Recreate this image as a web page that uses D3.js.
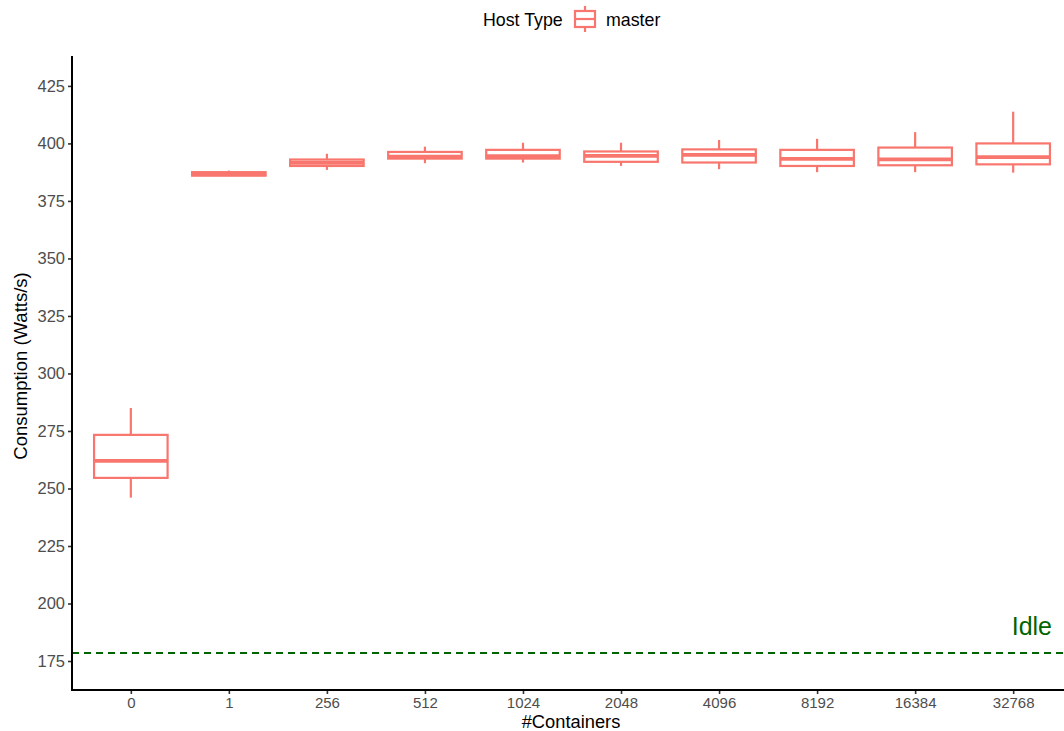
<!DOCTYPE html>
<html>
<head>
<meta charset="utf-8">
<script src="https://cdn.jsdelivr.net/npm/d3@7/dist/d3.min.js"></script>
<style>
  html, body { margin: 0; padding: 0; background: #fff; overflow: hidden; }
  svg { display: block; font-family: "Liberation Sans", Arial, sans-serif; }
</style>
</head>
<body>
<svg id="chart" width="1064" height="731"></svg>
<script>
// Number of containers per run (discrete categories)
const categories = ["0", "1", "256", "512", "1024", "2048", "4096", "8192", "16384", "32768"];

// Box-plot statistics of power consumption (Watts/s) for the master host
const whiskerLow  = [246.0, 385.8, 388.5, 391.4, 391.7, 390.2, 388.8, 387.5, 387.5, 387.3];
const q1          = [254.6, 386.0, 390.2, 393.4, 393.4, 392.0, 391.7, 390.2, 390.5, 390.9];
const median      = [262.0, 386.6, 391.6, 394.3, 394.5, 394.6, 395.0, 393.3, 393.1, 394.0];
const q3          = [273.3, 387.5, 393.0, 396.3, 397.2, 396.5, 397.4, 397.2, 398.2, 400.0];
const whiskerHigh = [285.0, 388.2, 395.5, 398.6, 400.3, 400.3, 401.5, 402.0, 404.9, 413.8];

// Idle consumption reference level
const idleLevel = 178.5;
const idleLabel = "Idle";

// Y axis ticks
const yTicks = [175, 200, 225, 250, 275, 300, 325, 350, 375, 400, 425];

const boxes = categories.map((c, i) => ({
  cat: c, lo: whiskerLow[i], q1: q1[i], med: median[i], q3: q3[i], hi: whiskerHigh[i]
}));

const svg = d3.select("#chart");
const W = 1064, H = 731;
const plotL = 72, plotR = 1072;   // panel runs slightly past the right edge
const plotT = 56, plotB = 690;

const boxColor = "#F8766D";

// Discrete x positions with 0.6-unit expansion on each side
const x = d3.scalePoint()
  .domain(categories)
  .range([plotL, plotR])
  .padding(0.6);
const step = x.step();
const boxW = step * 0.75;

const y = d3.scaleLinear()
  .domain([162.4, 438.0])
  .range([plotB, plotT]);

// Idle reference line
svg.append("line")
  .attr("x1", plotL).attr("x2", plotR)
  .attr("y1", y(idleLevel)).attr("y2", y(idleLevel))
  .attr("stroke", "#006400")
  .attr("stroke-width", 2)
  .attr("stroke-dasharray", "7,5");

svg.append("text")
  .attr("x", 1052).attr("y", y(idleLevel) - 18)
  .attr("text-anchor", "end")
  .attr("fill", "#006400")
  .attr("font-size", 25)
  .text(idleLabel);

// Boxes
const g = svg.append("g");
const bx = g.selectAll("g.box").data(boxes).enter().append("g").attr("class", "box");

bx.append("line")
  .attr("x1", d => x(d.cat)).attr("x2", d => x(d.cat))
  .attr("y1", d => y(d.hi)).attr("y2", d => y(d.q3))
  .attr("stroke", boxColor).attr("stroke-width", 2.2);
bx.append("line")
  .attr("x1", d => x(d.cat)).attr("x2", d => x(d.cat))
  .attr("y1", d => y(d.q1)).attr("y2", d => y(d.lo))
  .attr("stroke", boxColor).attr("stroke-width", 2.2);
bx.append("rect")
  .attr("x", d => x(d.cat) - boxW / 2)
  .attr("width", boxW)
  .attr("y", d => y(d.q3))
  .attr("height", d => y(d.q1) - y(d.q3))
  .attr("fill", "#fff")
  .attr("stroke", boxColor).attr("stroke-width", 2.2);
bx.append("line")
  .attr("x1", d => x(d.cat) - boxW / 2).attr("x2", d => x(d.cat) + boxW / 2)
  .attr("y1", d => y(d.med)).attr("y2", d => y(d.med))
  .attr("stroke", boxColor).attr("stroke-width", 3.8);

// Axes
const yAxis = d3.axisLeft(y).tickValues(yTicks).tickSize(4).tickPadding(3);
const yG = svg.append("g").attr("transform", `translate(${plotL},0)`).call(yAxis);
yG.select(".domain").remove();
yG.selectAll(".tick line").attr("stroke", "#333").attr("stroke-width", 1.6);
yG.selectAll(".tick text").attr("fill", "#4d4d4d").attr("font-size", 16.5)
  .attr("font-family", "Liberation Sans, Arial, sans-serif");

const xAxis = d3.axisBottom(x).tickSize(4).tickPadding(3);
const xG = svg.append("g").attr("transform", `translate(0,${plotB})`).call(xAxis);
xG.select(".domain").remove();
xG.selectAll(".tick line").attr("stroke", "#333").attr("stroke-width", 1.6);
xG.selectAll(".tick text").attr("fill", "#4d4d4d").attr("font-size", 15)
  .attr("font-family", "Liberation Sans, Arial, sans-serif");

// Axis lines
svg.append("line").attr("x1", plotL).attr("x2", plotL)
  .attr("y1", plotT).attr("y2", plotB + 0.8)
  .attr("stroke", "#000").attr("stroke-width", 2);
svg.append("line").attr("x1", plotL - 1).attr("x2", plotR)
  .attr("y1", plotB).attr("y2", plotB)
  .attr("stroke", "#000").attr("stroke-width", 2);

// Axis titles
svg.append("text")
  .attr("x", 571)
  .attr("y", 728)
  .attr("text-anchor", "middle")
  .attr("font-size", 18.3)
  .attr("fill", "#000")
  .text("#Containers");

svg.append("text")
  .attr("transform", `translate(27,${366}) rotate(-90)`)
  .attr("text-anchor", "middle")
  .attr("font-size", 18.5)
  .attr("fill", "#000")
  .text("Consumption (Watts/s)");

// Legend
const lg = svg.append("g");
lg.append("text").attr("x", 483).attr("y", 26).attr("font-size", 17.8).attr("fill", "#000").text("Host Type");
const kx = 585, ky = 19;
lg.append("line").attr("x1", kx).attr("x2", kx).attr("y1", ky - 13).attr("y2", ky + 13)
  .attr("stroke", boxColor).attr("stroke-width", 2.2);
lg.append("rect").attr("x", kx - 10).attr("y", ky - 8).attr("width", 20).attr("height", 16)
  .attr("fill", "#fff").attr("stroke", boxColor).attr("stroke-width", 2.2);
lg.append("line").attr("x1", kx - 10).attr("x2", kx + 10).attr("y1", ky).attr("y2", ky)
  .attr("stroke", boxColor).attr("stroke-width", 2.2);
lg.append("text").attr("x", 606).attr("y", 26).attr("font-size", 17.8).attr("fill", "#000").text("master");
</script>
</body>
</html>
